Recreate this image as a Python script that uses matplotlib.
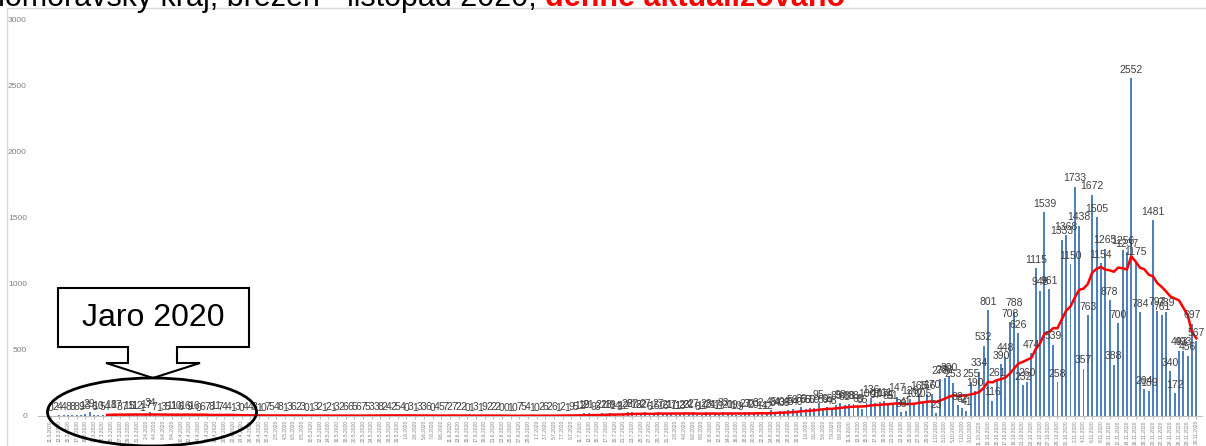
import pandas as pd
import matplotlib.pyplot as plt
from matplotlib.patches import Ellipse, Polygon, Rectangle

# denni pocty, Jihomoravsky kraj, 11.3. - 30.11.2020
mar = [0, 2, 4, 4, 8, 8, 8, 9, 13, 29, 6, 10, 5, 4, 18, 17, 3, 7, 15, 11, 12]
apr = [1, 17, 34, 7, 1, 3, 5, 11, 10, 6, 16, 9, 16, 0, 6, 7, 8, 11, 7, 4,
       4, 1, 3, 0, 4, 4, 3, 1, 0, 7]
may = [5, 4, 8, 1, 3, 6, 2, 3, 0, 1, 3, 2, 1, 2, 1, 3, 2, 6, 6, 5,
       6, 7, 5, 3, 3, 8, 2, 4, 2, 5, 4]
jun = [0, 3, 1, 3, 3, 6, 0, 4, 5, 7, 2, 7, 2, 2, 0, 1, 3, 1, 9, 2,
       2, 2, 0, 0, 1, 0, 7, 5, 4, 1]
jul = [0, 2, 6, 2, 6, 1, 2, 1, 9, 5, 12, 19, 21, 9, 3, 22, 18, 19, 14, 3,
       12, 28, 27, 18, 22, 27, 6, 15, 27, 16, 21]
aug = [17, 11, 13, 23, 21, 27, 8, 11, 28, 24, 17, 11, 33, 20, 19, 10, 9, 27, 30, 20,
       32, 14, 12, 45, 34, 40, 38, 45, 56, 40, 66]
sep = [55, 60, 59, 95, 59, 65, 48, 85, 98, 81, 88, 88, 65, 55, 100, 136, 97, 107, 111, 85,
       91, 147, 30, 41, 126, 102, 165, 105, 166, 170]
octo = [23, 278, 288, 300, 253, 82, 62, 41, 255, 190, 334, 532, 801, 116, 261, 390, 448, 708, 788, 626,
        232, 260, 474, 1115, 948, 1539, 961, 539, 258, 1333, 1368]
nov = [1150, 1733, 1438, 357, 763, 1672, 1505, 1154, 1265, 878, 388, 700, 1256, 1237, 2552, 1175, 784, 204, 189, 1481,
       797, 761, 789, 340, 172, 493, 493, 456, 697, 567]

values = mar + apr + may + jun + jul + aug + sep + octo + nov
dates = pd.date_range("2020-03-11", periods=len(values), freq="D")
date_labels = [f"{d.day}.{d.month}.{d.year}" for d in dates]

df = pd.DataFrame({"cases": values}, index=range(len(values)))
# klouzavy prumer (14 dni)
df["avg"] = df["cases"].rolling(14).mean()

plt.rcParams["font.family"] = ["Liberation Sans", "DejaVu Sans"]
fig = plt.figure(figsize=(12.06, 4.46), dpi=100)

# outer chart frame
fig.patches.append(Rectangle((7 / 1206, -0.1), 1.2, 1.1 - 8 / 446, transform=fig.transFigure,
                             fill=False, edgecolor="#d9d9d9", linewidth=1))

ax = fig.add_axes([38 / 1206, 30 / 446, 1164 / 1206, 397 / 446])
x = df.index.values
ax.bar(x, df["cases"], width=0.45, color="#4F81BD", zorder=2)
ax.plot(x, df["avg"], color="#FF0000", linewidth=1.8, zorder=3)

for xi, v in zip(x, df["cases"]):
    ax.text(xi, v + 25, str(v), ha="center", va="bottom", fontsize=7.5, color="#404040", zorder=4)

ax.set_xlim(-2.9, len(values) + 0.3)
ax.set_ylim(0, 3000)
ax.set_yticks(range(0, 3001, 500))
ax.set_xticks(x[::2])
ax.set_xticklabels(date_labels[::2], rotation=90, fontsize=3.5, color="#808080")
ax.tick_params(axis="y", length=0, labelsize=6, labelcolor="#808080", pad=8)
ax.tick_params(axis="x", length=2, color="#bfbfbf", pad=1)
for s in ["top", "right", "left"]:
    ax.spines[s].set_visible(False)
ax.spines["bottom"].set_color("#bfbfbf")

# titulek (oriznuty nahore)
fig.text(545 / 1206, 1 - 6 / 446, "Jihomoravský kraj, březen - listopad 2020, ", fontsize=22,
         ha="right", va="baseline", color="black")
fig.text(545 / 1206, 1 - 6 / 446, "denně aktualizováno", fontsize=22, fontweight="bold",
         ha="left", va="baseline", color="#FF0000")

# popisek Jaro 2020 s sipkou a elipsou
def fx(px):
    return px / 1206

def fy(py):
    return 1 - py / 446

callout = [(58, 288), (249, 288), (249, 347), (177, 347), (177, 363), (200, 363), (153, 378),
           (106, 363), (128, 363), (128, 347), (58, 347)]
fig.patches.append(Polygon([(fx(a), fy(b)) for a, b in callout], closed=True, transform=fig.transFigure,
                           facecolor="white", edgecolor="black", linewidth=1.5, zorder=5))
fig.text(fx(153), fy(318), "Jaro 2020", fontsize=23, ha="center", va="center", zorder=6)
fig.patches.append(Ellipse((fx(152), fy(412)), 209 / 1206, 68 / 446, transform=fig.transFigure,
                           fill=False, edgecolor="black", linewidth=2, zorder=6))

plt.savefig("out.png", dpi=100)
